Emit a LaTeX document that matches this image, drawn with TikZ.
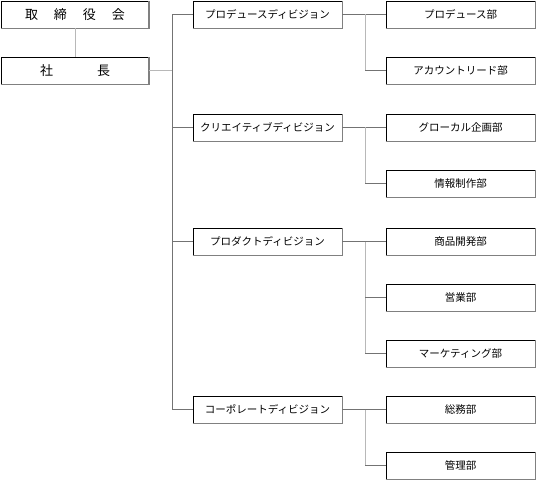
\documentclass[tikz,border=0pt]{standalone}
\usepackage{fontspec}
\setmainfont{Noto Sans CJK JP}
\begin{document}
\begin{tikzpicture}[x=1pt,y=-1pt,
  box/.style={draw=black, line width=0.8pt, fill=white, minimum width=149pt, minimum height=27pt, inner sep=0pt, font=\fontsize{10.5}{12}\selectfont},
  topbox/.style={box, minimum width=147pt, font=\fontsize{13}{15}\selectfont},
  boxshade/.style={draw=black!50, line width=1.6pt},
  lnA/.style={draw=black!55, line width=0.8pt},
  lnB/.style={draw=black!28, line width=0.9pt}]
\useasboundingbox (0,0) rectangle (538,481);
\coordinate (trunk) at (172,0);
\coordinate (br) at (365,0);
% top
\node[topbox] (tori) at (75,14.5) {取\hspace{16pt}締\hspace{16pt}役\hspace{16pt}会};
\node[topbox] (sha) at (75,70.5) {社\hspace{44pt}長};
% divisions
\node[box] (d1) at (267.5,14.5) {プロデュースディビジョン};
\node[box] (d2) at (267.5,127.5) {クリエイティブディビジョン};
\node[box] (d3) at (267.5,241.5) {プロダクトディビジョン};
\node[box] (d4) at (267.5,409.5) {コーポレートディビジョン};
% departments
\node[box] (p1) at (460.5,14.5) {プロデュース部};
\node[box] (p2) at (460.5,70.5) {アカウントリード部};
\node[box] (p3) at (460.5,127.5) {グローカル企画部};
\node[box] (p4) at (460.5,183.5) {情報制作部};
\node[box] (p5) at (460.5,241.5) {商品開発部};
\node[box] (p6) at (460.5,297.5) {営業部};
\node[box] (p7) at (460.5,353.5) {マーケティング部};
\node[box] (p8) at (460.5,409.5) {総務部};
\node[box] (p9) at (460.5,465.5) {管理部};
\foreach \n in {tori,sha,d1,d2,d3,d4,p1,p2,p3,p4,p5,p6,p7,p8,p9}
  \draw[boxshade] (\n.south west) -| (\n.north east);
% connectors
\draw[lnB] (tori.south) -- (sha.north);
\draw[lnB] (sha.east) -- (sha.east -| trunk);
\draw[lnA] (d1.west -| trunk) -- (d4.west -| trunk);
\foreach \d in {d1,d2,d3,d4}
  \draw[lnA] (\d.west -| trunk) -- (\d.west);
% division 1
\draw[lnA] (d1.east) -- (p1.west);
\draw[lnB] (d1.east -| br) -- (p2.west -| br);
\draw[lnA] (p2.west -| br) -- (p2.west);
% division 2
\draw[lnA] (d2.east) -- (p3.west);
\draw[lnB] (d2.east -| br) -- (p4.west -| br);
\draw[lnA] (p4.west -| br) -- (p4.west);
% division 3
\draw[lnA] (d3.east) -- (p5.west);
\draw[lnB] (d3.east -| br) -- (p7.west -| br);
\draw[lnA] (p6.west -| br) -- (p6.west);
\draw[lnA] (p7.west -| br) -- (p7.west);
% division 4
\draw[lnA] (d4.east) -- (p8.west);
\draw[lnB] (d4.east -| br) -- (p9.west -| br);
\draw[lnA] (p9.west -| br) -- (p9.west);
\end{tikzpicture}
\end{document}
